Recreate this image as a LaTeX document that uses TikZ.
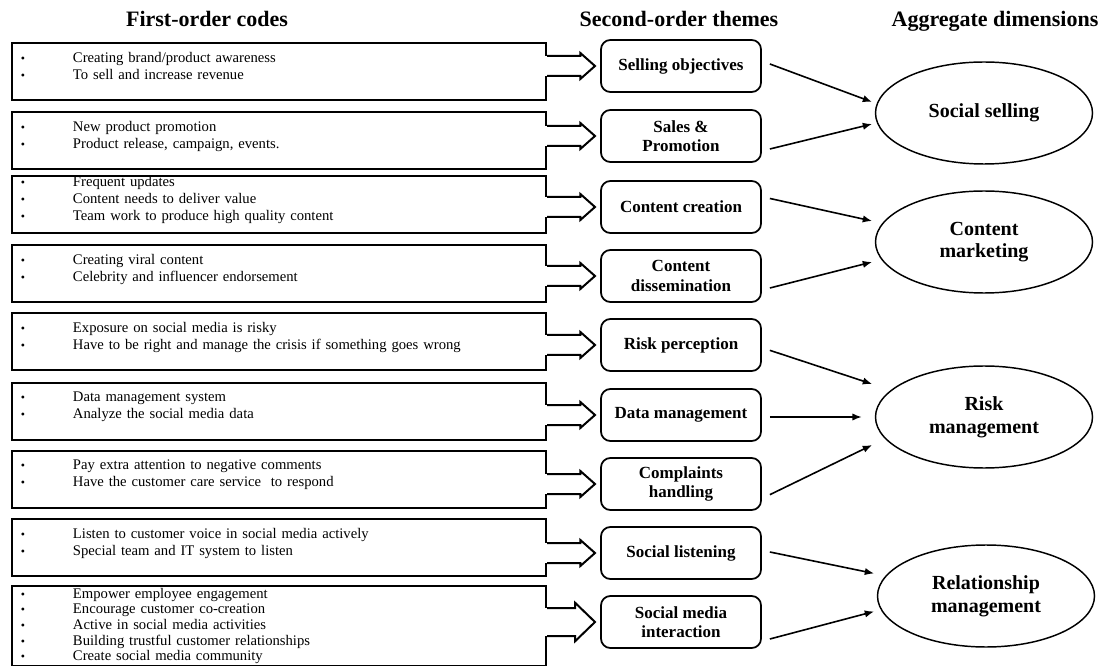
\documentclass[tikz,border=0pt]{standalone}
\usepackage{fontspec}
\setmainfont{Liberation Serif}
\usetikzlibrary{positioning, arrows.meta, shapes.geometric}
\newcommand{\bul}{\makebox[39pt][l]{\small\textbullet}}

\begin{document}
\begin{tikzpicture}[
    x=0.75pt, y=-0.75pt,
    >={Latex[length=7pt,width=5.5pt]},
    code/.style={draw, line width=1.5pt, anchor=north west, text width=387pt,
                 inner xsep=6.75pt, inner ysep=2pt, minimum height=42.75pt,
                 align=left, font=\fontsize{11}{12.75}\selectfont},
    lifted/.style={execute at end node={\rule[-9pt]{0pt}{1pt}}},
    theme/.style={draw, rounded corners=7pt, line width=1.3pt, minimum width=120pt,
                  minimum height=39pt, align=center,
                  font=\fontsize{12.75}{14.5}\selectfont\bfseries},
    dim/.style={draw, ellipse, line width=1.1pt, minimum width=162.75pt,
                minimum height=76.5pt, align=center,
                font=\fontsize{15}{17}\selectfont\bfseries},
    head/.style={anchor=base, font=\fontsize{16.5}{19}\selectfont\bfseries},
    blockarrow/.style={line width=1.5pt, line join=miter},
    link/.style={->, line width=1.2pt},
]
\useasboundingbox (0,0) rectangle (1106,666);

% Column headings
\node[head] (h1) at (207,27) {First-order codes};
\node[head] (h2) at (679,27) {Second-order themes};
\node[head] (h3) at (995,27) {Aggregate dimensions};

% First-order codes
\node[code, lifted] (c1) at (11,42)  {\bul Creating brand/product awareness\\\bul To sell and increase revenue};
\node[code, lifted] (c2) at (11,111) {\bul New product promotion\\\bul Product release, campaign, events.};
\node[code, lifted, inner ysep=0pt] (c3) at (11,175) {\bul Frequent updates\\\bul Content needs to deliver value\\\bul Team work to produce high quality content};
\node[code, lifted] (c4) at (11,244) {\bul Creating viral content\\\bul Celebrity and influencer endorsement};
\node[code, lifted] (c5) at (11,312) {\bul Exposure on social media is risky\\\bul Have to be right and manage the crisis if something goes wrong};
\node[code, lifted] (c6) at (11,382) {\bul Data management system\\\bul Analyze the social media data};
\node[code, lifted] (c7) at (11,450) {\bul Pay extra attention to negative comments\\\bul Have the customer care service\ \ to respond};
\node[code, lifted] (c8) at (11,518) {\bul Listen to customer voice in social media actively\\\bul Special team and IT system to listen};
\node[code, minimum height=60pt, inner ysep=1pt,
      font=\fontsize{11}{11.7}\selectfont] (c9) at (11,585) {\bul Empower employee engagement\\\bul Encourage customer co-creation\\\bul Active in social media activities\\\bul Building trustful customer relationships\\\bul Create social media community};

% Second-order themes
\node[theme] (t1) at (681,66)  {Selling objectives};
\node[theme] (t2) at (681,136) {Sales \&\\Promotion};
\node[theme] (t3) at (681,207) {Content creation};
\node[theme] (t4) at (681,276) {Content\\dissemination};
\node[theme] (t5) at (681,345) {Risk perception};
\node[theme] (t6) at (681,415) {Data management};
\node[theme] (t7) at (681,484) {Complaints\\handling};
\node[theme] (t8) at (681,553) {Social listening};
\node[theme] (t9) at (681,622) {Social media\\interaction};

% Aggregate dimensions
\node[dim] (e1) at (984,113) {Social selling};
\node[dim] (e2) at (984,242) {Content\\marketing};
\node[dim] (e3) at (984,417) {Risk\\management};
\node[dim] (e4) at (986,596) {Relationship\\management};

% Hollow block arrows from codes to themes
\foreach \i/\h/\g/\s in {1/7.5pt/2.25pt/25pt, 2/7.5pt/2.25pt/25pt, 3/7.5pt/2.25pt/25pt,
                         4/7.5pt/2.25pt/25pt, 5/7.5pt/2.25pt/25pt, 6/7.5pt/2.25pt/25pt,
                         7/7.5pt/2.25pt/25pt, 8/7.5pt/2.25pt/25pt, 9/10.5pt/4pt/21pt} {
    \coordinate (a\i) at (c\i.east |- t\i.west);
    \fill[white] ([xshift=-2pt,yshift=\h]a\i) rectangle ([yshift=-\h]a\i);
    \draw[blockarrow] ([yshift=\h]a\i) -- ++(\s,0) -- ++(0,\g) -- ([xshift=36pt]a\i)
        -- ([xshift=\s,yshift=-\h-\g]a\i) -- ++(0,\g) -- ([yshift=-\h]a\i);
}

% Themes to dimensions
\draw[link] ([xshift=6pt,yshift=1.5pt]t1.east)   -- ([xshift=-2pt,yshift=8.25pt]e1.west);
\draw[link] ([xshift=6pt,yshift=-9.75pt]t2.east) -- ([xshift=-2pt,yshift=-8.25pt]e1.west);
\draw[link] ([xshift=6pt,yshift=6.4pt]t3.east)   -- ([xshift=-2pt,yshift=15.75pt]e2.west);
\draw[link] ([xshift=6pt,yshift=-9pt]t4.east)    -- ([xshift=-2pt,yshift=-15pt]e2.west);
\draw[link] ([xshift=6pt,yshift=-4pt]t5.east)    -- ([xshift=-2pt,yshift=24.75pt]e3.west);
\draw[link] ([xshift=6pt,yshift=-1.5pt]t6.east)  -- ([xshift=-9.75pt]e3.west);
\draw[link] ([xshift=6pt,yshift=-8pt]t7.east)    -- ([xshift=-2pt,yshift=-21pt]e3.west);
\draw[link] ([xshift=6pt,yshift=0.75pt]t8.east)  -- ([xshift=-2pt,yshift=16.9pt]e4.west);
\draw[link] ([xshift=6pt,yshift=-12.75pt]t9.east) -- ([xshift=-2pt,yshift=-11.6pt]e4.west);

\end{tikzpicture}
\end{document}
